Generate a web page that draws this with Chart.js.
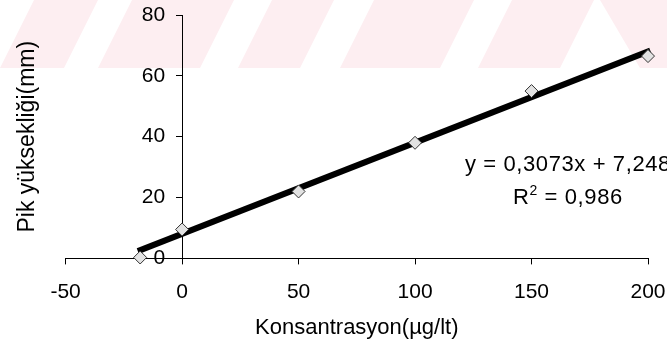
<!DOCTYPE html>
<html>
<head>
<meta charset="utf-8">
<script src="https://cdn.jsdelivr.net/npm/chart.js@4.4.1/dist/chart.umd.min.js"></script>
<style>
  html, body { margin: 0; padding: 0; background: #fff; }
  #wrap { width: 667px; height: 345px; position: relative; }
</style>
</head>
<body>
<div id="wrap"><canvas id="chart"></canvas></div>
<script>
// ── Data ────────────────────────────────────────────────────
const concX    = [-18, 0, 50, 100, 150, 200];        // Konsantrasyon (µg/lt)
const peakY    = [0.3, 9.5, 22, 38, 55, 66.5];       // Pik yüksekliği (mm)
const trendX   = [-19, 201];                          // trendline ends
const trendY   = [2.4, 68.3];
const xTicks   = [-50, 0, 50, 100, 150, 200];
const yTicks   = [0, 20, 40, 60, 80];
const eqText   = 'y = 0,3073x + 7,248';
const r2Value  = '0,986';

const FONT = "'Liberation Sans', Arial, sans-serif";
const FS   = 21;

// faint watermark band behind the plot
const watermark = {
    id: 'watermark',
    beforeDraw(chart) {
        const ctx = chart.ctx;
        ctx.save();
        ctx.fillStyle = '#fdeef1';
        // slanted pink bands
        [[0, 64], [98, 200], [238, 300], [340, 440], [478, 560]].forEach(([a, b]) => {
            ctx.beginPath();
            ctx.moveTo(a, 68);
            ctx.lineTo(b, 68);
            ctx.lineTo(b + 34, 0);
            ctx.lineTo(a + 34, 0);
            ctx.closePath();
            ctx.fill();
        });
        ctx.beginPath();
        ctx.moveTo(600, 0);
        ctx.lineTo(667, 0);
        ctx.lineTo(667, 68);
        ctx.lineTo(640, 68);
        ctx.closePath();
        ctx.fill();
        ctx.restore();
    }
};

// y tick labels left of the y axis at x = 0, plus the regression label
const labels = {
    id: 'labels',
    afterDraw(chart) {
        const ctx = chart.ctx;
        const ys = chart.scales.y;
        const ax = chart.scales.x.getPixelForValue(0);
        ctx.save();
        ctx.fillStyle = '#000';
        ctx.font = FS + 'px ' + FONT;
        ctx.textBaseline = 'middle';
        ctx.textAlign = 'right';
        ys.ticks.forEach(t => ctx.fillText(String(t.value), ax - 17, ys.getPixelForValue(t.value)));

        ctx.textAlign = 'left';
        ctx.font = '22px ' + FONT;
        ctx.letterSpacing = '0.6px';
        ctx.fillText(eqText, 465, 165);
        let x = 513;
        ctx.fillText('R', x, 198);
        x += ctx.measureText('R').width;
        ctx.font = '14px ' + FONT;
        ctx.fillText('2', x, 191);
        x += ctx.measureText('2').width;
        ctx.font = '22px ' + FONT;
        ctx.fillText(' = ' + r2Value, x, 198);
        ctx.restore();
    }
};

new Chart(document.getElementById('chart'), {
    type: 'scatter',
    data: {
        datasets: [
            {
                label: 'Ölçüm',
                data: concX.map((x, i) => ({ x, y: peakY[i] })),
                pointStyle: 'rectRot',
                pointRadius: 6.5,
                pointBackgroundColor: '#e2e2e2',
                pointBorderColor: '#333',
                pointBorderWidth: 1,
                showLine: false,
                clip: false
            },
            {
                label: 'Doğrusal',
                data: trendX.map((x, i) => ({ x, y: trendY[i] })),
                showLine: true,
                borderColor: '#000',
                borderWidth: 6,
                pointRadius: 0,
                borderCapStyle: 'butt',
                clip: false
            }
        ]
    },
    options: {
        responsive: true,
        maintainAspectRatio: false,
        animation: false,
        layout: { padding: { left: 8, right: 0, top: 15, bottom: 4 } },
        plugins: {
            legend: { display: false },
            tooltip: { enabled: false }
        },
        scales: {
            x: {
                type: 'linear',
                position: 'bottom',
                min: xTicks[0],
                max: xTicks[xTicks.length - 1],
                afterBuildTicks: s => { s.ticks = xTicks.map(v => ({ value: v })); },
                afterFit: s => { s.paddingRight = 19; },
                grid: { drawOnChartArea: false, tickLength: 6, color: '#000' },
                border: { color: '#000', width: 1 },
                ticks: { color: '#000', font: { family: FONT, size: FS }, padding: 15, maxRotation: 0 },
                title: {
                    display: true, text: 'Konsantrasyon(µg/lt)', color: '#000',
                    font: { family: FONT, size: FS + 1 }, padding: { top: -5, bottom: 0 }
                }
            },
            y: {
                type: 'linear',
                position: { x: 0 },
                min: yTicks[0],
                max: yTicks[yTicks.length - 1],
                afterBuildTicks: s => { s.ticks = yTicks.map(v => ({ value: v })); },
                grid: { drawOnChartArea: false, tickLength: 6, color: '#000' },
                border: { color: '#000', width: 1 },
                ticks: { display: false }
            },
            yt: {
                type: 'linear',
                position: 'left',
                min: yTicks[0],
                max: yTicks[yTicks.length - 1],
                grid: { display: false },
                border: { display: false },
                ticks: { display: false },
                title: {
                    display: true, text: 'Pik yüksekliği(mm)', color: '#000',
                    font: { family: FONT, size: FS + 2 }, padding: { top: 6, bottom: 16 }
                }
            }
        }
    },
    plugins: [watermark, labels]
});
</script>
</body>
</html>
